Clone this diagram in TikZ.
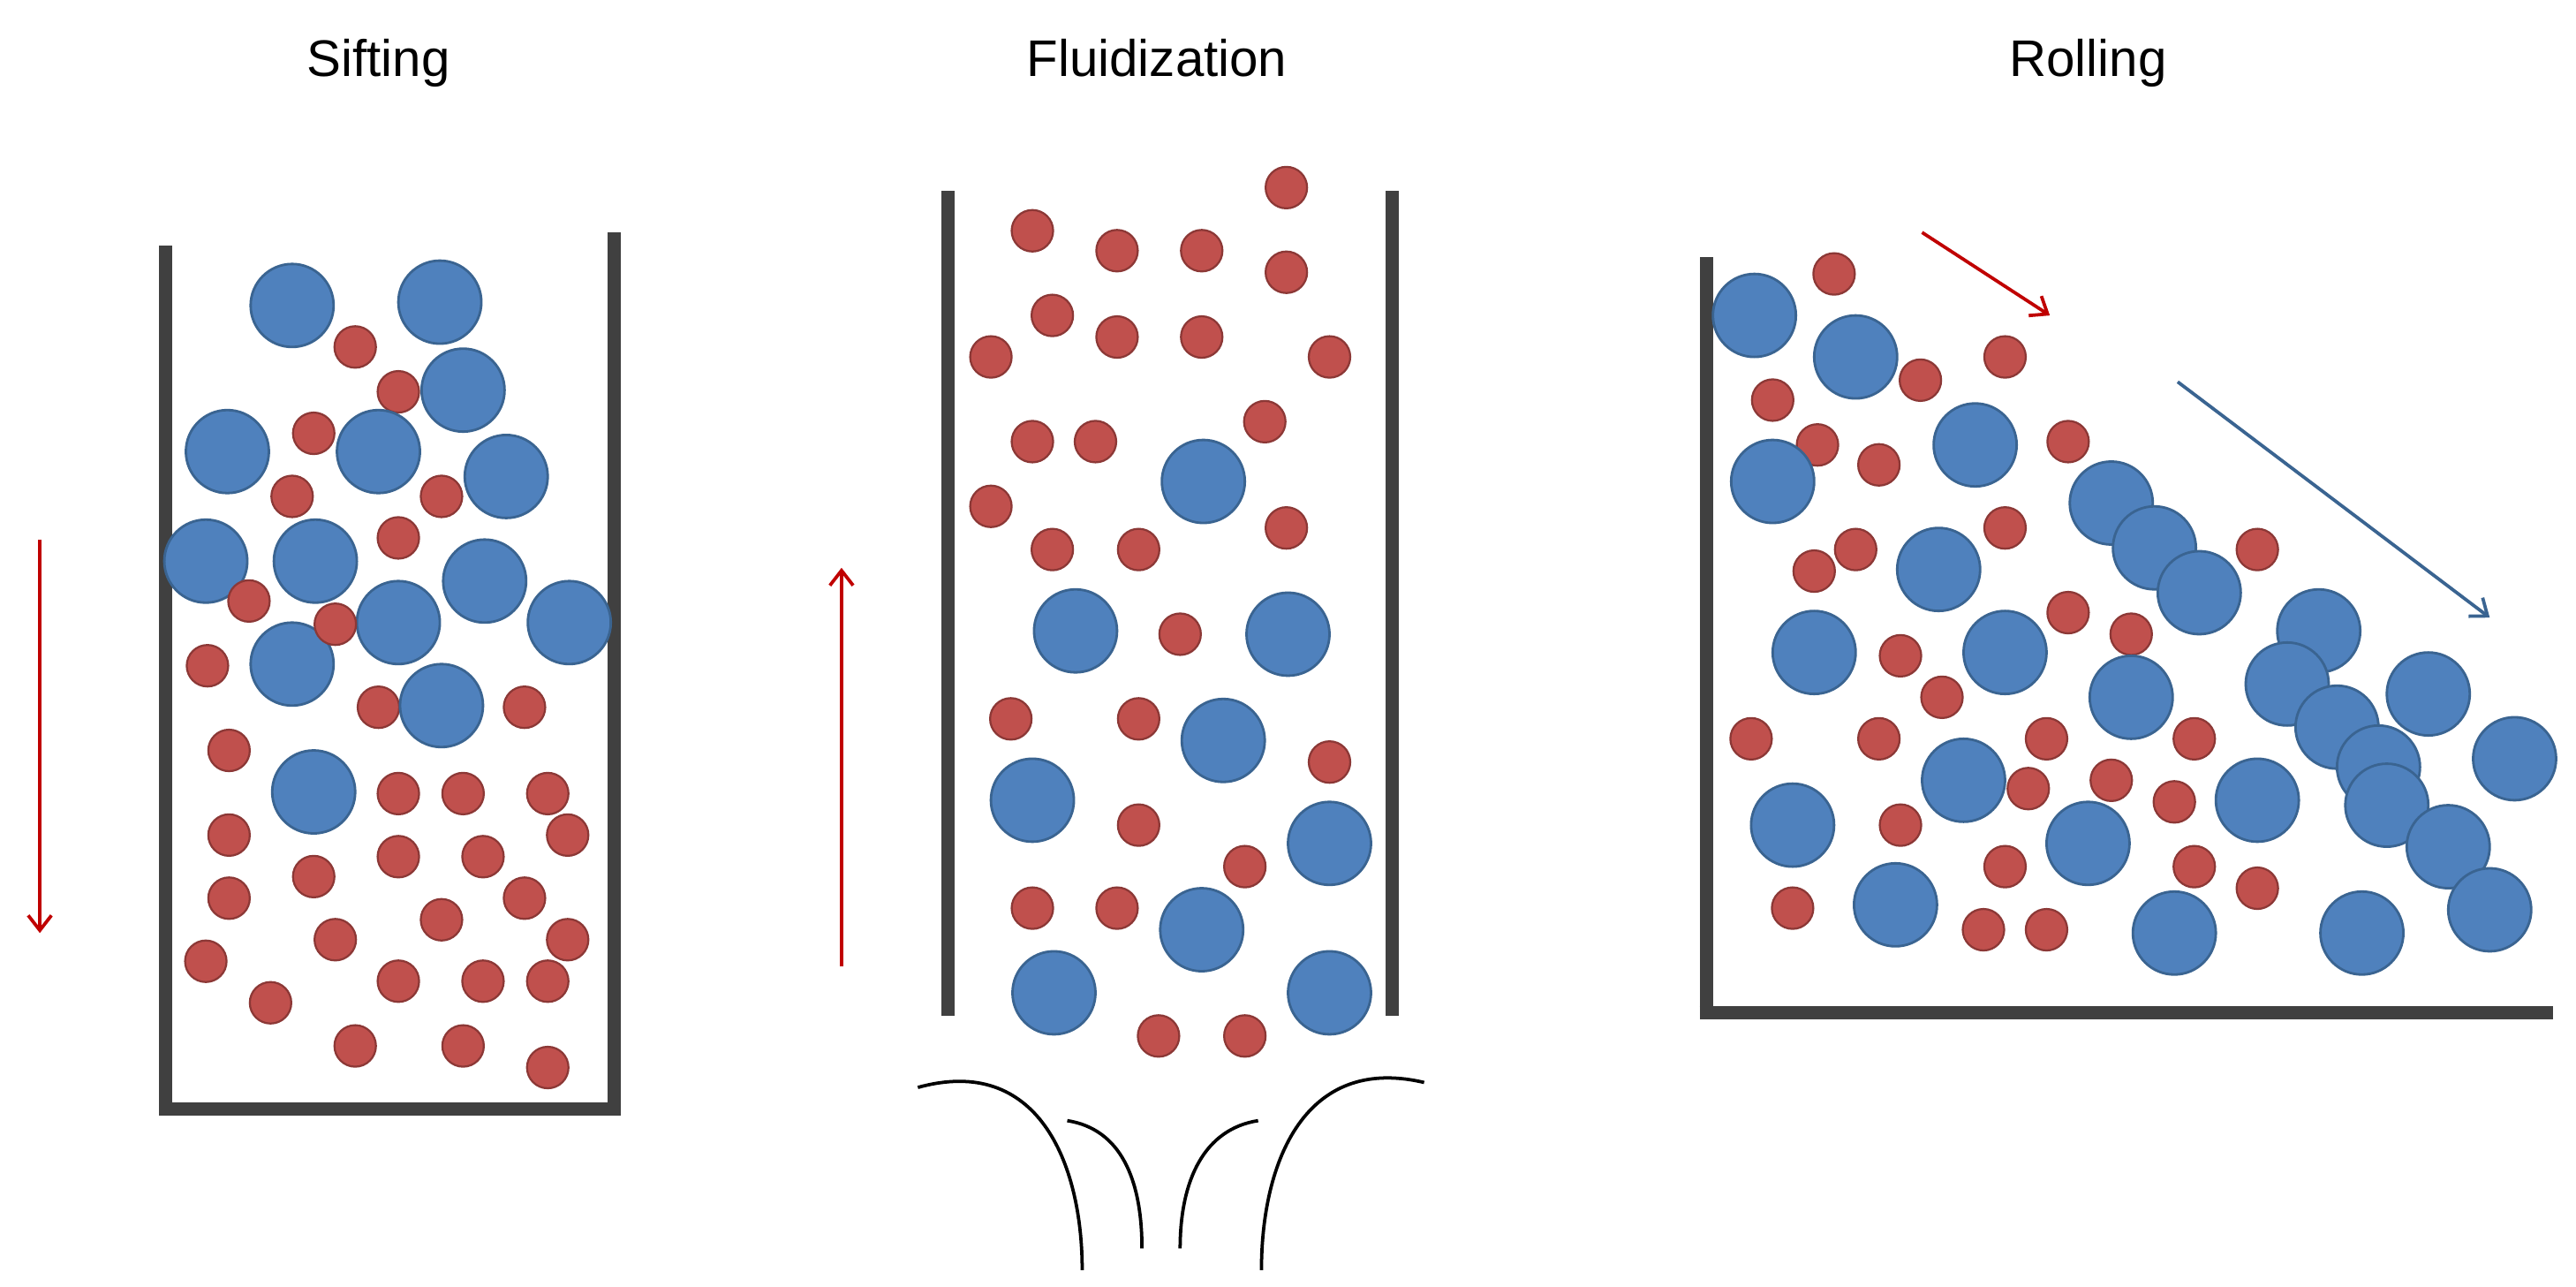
\documentclass[tikz,border=0pt]{standalone}
\usepackage{fontspec}
\setmainfont{Liberation Sans}
\usetikzlibrary{arrows.meta}
\definecolor{bfill}{HTML}{4F81BD}
\definecolor{bline}{HTML}{3A6491}
\definecolor{rfill}{HTML}{C0504D}
\definecolor{rline}{HTML}{8C3836}
\definecolor{wall}{HTML}{404040}
\definecolor{arr}{HTML}{C00000}
\definecolor{barr}{HTML}{3A6491}
\begin{document}
\begin{tikzpicture}[x=1pt,y=-1pt,
  big/.style={fill=bfill,draw=bline,line width=1.5pt},
  small/.style={fill=rfill,draw=rline,line width=1.2pt},
  wallst/.style={draw=wall,line width=8pt},
  title/.style={font=\fontsize{31}{36}\selectfont,anchor=base},
  arrw/.style={line width=2pt,-{Straight Barb[length=9pt,width=14pt]}},
  air/.style={draw=black,line width=2pt}]
\useasboundingbox (0,0) rectangle (1552,775);
\fill[white] (0,0) rectangle (1552,775);
\node[title] (t1) at (228,46) {Sifting};
\node[title] (t2) at (697,46) {Fluidization};
\node[title] (t3) at (1258,46) {Rolling};
% Sifting
\draw[wallst] (100,148) -- (100,672);
\draw[wallst] (96,668) -- (374,668);
\draw[wallst] (370,140) -- (370,672);
\foreach \p in {(214,209),(240,236),(189,261),(176,299),(266,299),(240,324),(125,401),(228,426),(316,426),(138,452),(240,478),(279,478),(330,478),(342,503),(138,503),(240,516),(291,516),(189,528),(138,541),(316,541),(266,554),(202,566),(342,566),(124,579),(240,591),(291,591),(330,591),(163,604),(214,630),(279,630),(330,643)}
  \draw[small] \p circle (12.5);
\foreach \p in {(176,184),(265,182),(279,235),(137,272),(228,272),(305,287),(124,338),(190,338),(292,350),(240,375),(343,375),(176,400),(266,425),(189,477)}
  \draw[big] \p circle (25);
\foreach \p in {(150,362),(202,376)}
  \draw[small] \p circle (12.5);
\coordinate (a1s) at (24,325); \coordinate (a1e) at (24,562);
\draw[arr,arrw] (a1s) -- (a1e);
% Fluidization
\draw[wallst] (571,115) -- (571,612);
\draw[wallst] (839,115) -- (839,612);
\foreach \p in {(775,113),(622,139),(673,151),(724,151),(775,164),(634,190),(673,203),(724,203),(597,215),(801,215),(762,254),(622,266),(660,266),(597,305),(634,331),(686,331),(775,318),(711,382),(609,433),(686,433),(801,459),(686,497),(750,522),(622,547),(673,547),(698,624),(750,624)}
  \draw[small] \p circle (12.5);
\foreach \p in {(725,290),(648,380),(776,382),(737,446),(622,482),(801,508),(724,560),(635,598),(801,598)}
  \draw[big] \p circle (25);
\coordinate (a2s) at (507,582); \coordinate (a2e) at (507,342);
\draw[arr,arrw] (a2s) -- (a2e);
\draw[air] (553,655) .. controls (625,635) and (652,700) .. (652,765);
\draw[air] (643,675) .. controls (675,680) and (688,710) .. (688,752);
\draw[air] (758,675) .. controls (726,680) and (711,710) .. (711,752);
\draw[air] (858,652) .. controls (786,635) and (760,700) .. (760,765);
% Rolling
\draw[wallst] (1028,155) -- (1028,614);
\draw[wallst] (1024,610) -- (1538,610);
\foreach \p in {(1105,165),(1208,215),(1157,229),(1068,241),(1095,268),(1132,280),(1246,266),(1208,318),(1118,331),(1360,331),(1093,344),(1246,369),(1284,382),(1145,395),(1170,420),(1055,445),(1132,445),(1233,445),(1322,445),(1222,475),(1272,470),(1310,483),(1145,497),(1208,522),(1322,522),(1360,535),(1080,547),(1195,560),(1233,560)}
  \draw[small] \p circle (12.5);
\foreach \p in {(1057,190),(1118,215),(1068,290),(1190,268),(1272,303),(1298,330),(1325,357),(1168,343),(1093,393),(1208,393),(1397,380),(1284,420),(1378,412),(1408,438),(1463,418),(1433,462),(1438,485),(1515,457),(1183,470),(1080,497),(1258,508),(1360,482),(1475,510),(1142,545),(1310,562),(1423,562),(1500,548)}
  \draw[big] \p circle (25);
\coordinate (a3s) at (1158,140); \coordinate (a3e) at (1235,190);
\draw[arr,arrw] (a3s) -- (a3e);
\coordinate (a4s) at (1312,230); \coordinate (a4e) at (1500,372);
\draw[barr,arrw] (a4s) -- (a4e);
\end{tikzpicture}
\end{document}
